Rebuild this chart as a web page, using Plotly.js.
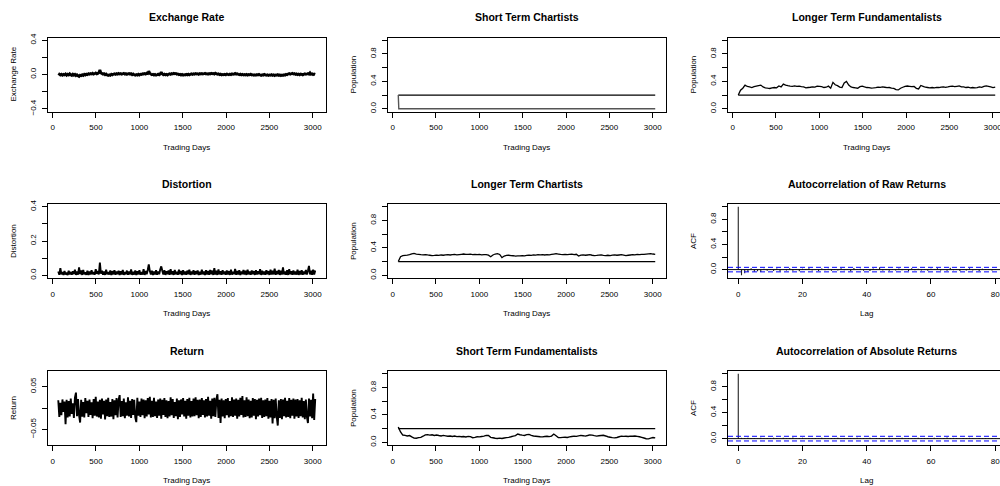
<!DOCTYPE html>
<html><head><meta charset="utf-8">
<script src="https://cdn.plot.ly/plotly-3.0.1.min.js"></script>
<style>html,body{margin:0;padding:0;background:#fff}#chart{width:1000px;height:486px}</style>
</head><body><div id="chart"></div>
<script>
// ---------------- DATA ----------------
const dayStart = 65;      // first trading day plotted
const denseStep = 12;     // spacing (days) of the dense series below
const popStep = 26;       // spacing (days) of the population series

const exchangeRate = [
0.012,0.004,-0.006,0.003,-0.008,0.001,-0.004,0.006,-0.009,0.002,
-0.005,0.008,-0.003,-0.01,0.004,-0.007,0.002,-0.012,-0.004,-0.015,
-0.022,-0.009,-0.014,-0.003,-0.011,0.002,-0.006,0.004,-0.002,0.009,
0.003,0.011,0.006,0.014,0.004,0.01,0.017,0.008,0.013,0.021,
0.052,0.018,0.012,0.004,0.009,-0.002,0.005,-0.006,-0.011,-0.004,
-0.009,0.002,-0.005,0.004,0.008,0.001,0.01,0.004,0.012,0.006,
0.011,0.003,0.009,0.013,0.005,0.01,0.002,0.008,0.012,0.004,
0.009,-0.002,0.006,-0.004,-0.009,-0.001,-0.007,0.003,-0.005,0.004,
0.001,0.009,0.005,0.012,0.006,0.016,0.011,0.038,0.014,0.004,
-0.003,0.002,-0.006,0.001,-0.007,-0.002,0.004,-0.004,0.006,0.028,
0.007,-0.003,0.004,-0.005,0.002,-0.006,0.003,0.008,0.002,0.011,
0.006,0.014,0.008,0.012,0.003,0.006,-0.003,0.002,-0.006,0.001,
-0.008,-0.002,-0.006,0.001,-0.004,0.003,-0.005,0.002,0.007,0.001,
0.008,0.004,0.011,0.005,0.009,0.002,0.01,0.006,0.012,0.005,
0.009,0.013,0.006,0.01,0.004,0.011,0.007,0.014,0.008,0.012,
0.005,0.016,0.009,0.003,0.007,-0.002,0.004,-0.005,0.001,-0.003,
0.002,-0.004,0.006,0.001,-0.003,0.004,-0.002,0.008,0.002,0.005,
0.012,0.004,0.009,0.003,-0.002,0.005,-0.004,0.001,-0.006,-0.001,
-0.005,0.002,-0.007,-0.001,-0.004,0.003,-0.006,-0.002,-0.009,-0.003,
-0.008,-0.001,-0.006,0.002,-0.005,-0.01,-0.003,-0.007,0.001,-0.004,
-0.009,-0.003,-0.011,-0.005,-0.008,-0.002,-0.01,-0.004,-0.012,-0.006,
-0.009,-0.002,-0.011,-0.005,-0.013,-0.006,-0.01,-0.003,-0.007,0.002,
-0.003,0.006,0.011,0.004,0.009,0.013,0.006,0.01,0.002,0.007,
-0.001,0.004,-0.003,0.005,0.001,-0.004,0.003,0.008,0.002,0.006,
0.011,0.004,0.019,0.003,0.008,-0.002,0.005,0.001
];

const distortion = [
0.022,0.003,0.041,0.006,0.018,0.002,0.025,0.004,0.016,0.001,
0.027,0.005,0.019,0.003,0.024,0.007,0.033,0.002,0.021,0.004,
0.046,0.006,0.028,0.002,0.031,0.005,0.017,0.003,0.026,0.001,
0.022,0.004,0.029,0.006,0.018,0.003,0.035,0.008,0.024,0.005,
0.074,0.009,0.027,0.003,0.021,0.002,0.032,0.006,0.019,0.004,
0.028,0.002,0.024,0.005,0.03,0.003,0.021,0.006,0.026,0.001,
0.023,0.004,0.031,0.002,0.019,0.006,0.027,0.003,0.022,0.005,
0.034,0.002,0.02,0.004,0.028,0.001,0.023,0.005,0.03,0.003,
0.019,0.004,0.036,0.002,0.025,0.006,0.031,0.063,0.024,0.004,
0.027,0.002,0.021,0.005,0.029,0.003,0.022,0.006,0.034,0.052,
0.026,0.004,0.03,0.002,0.023,0.006,0.028,0.003,0.035,0.005,
0.024,0.002,0.031,0.005,0.02,0.003,0.033,0.006,0.025,0.002,
0.029,0.004,0.022,0.003,0.027,0.006,0.032,0.002,0.021,0.005,
0.03,0.003,0.024,0.006,0.028,0.002,0.02,0.004,0.033,0.005,
0.022,0.002,0.029,0.005,0.025,0.003,0.031,0.006,0.027,0.002,
0.041,0.004,0.026,0.002,0.034,0.005,0.023,0.003,0.03,0.006,
0.021,0.003,0.028,0.005,0.024,0.002,0.032,0.004,0.02,0.006,
0.037,0.003,0.025,0.005,0.029,0.002,0.022,0.006,0.031,0.004,
0.026,0.002,0.033,0.005,0.021,0.003,0.028,0.006,0.024,0.002,
0.03,0.004,0.023,0.006,0.035,0.002,0.027,0.005,0.021,0.003,
0.029,0.006,0.024,0.002,0.032,0.004,0.026,0.005,0.038,0.003,
0.025,0.006,0.031,0.002,0.027,0.004,0.046,0.005,0.022,0.003,
0.029,0.002,0.035,0.006,0.024,0.003,0.028,0.005,0.021,0.004,
0.033,0.002,0.025,0.005,0.029,0.003,0.022,0.006,0.031,0.004,
0.027,0.055,0.005,0.026,0.003,0.032,0.004,0.028
];

const returns = [
0.018,-0.021,0.012,-0.017,0.02,-0.009,0.015,-0.038,0.019,-0.022,
0.016,-0.02,0.022,-0.014,0.011,-0.023,0.024,0.036,-0.019,0.021,
-0.017,-0.034,0.019,-0.02,0.014,-0.022,0.023,-0.012,0.017,-0.021,
0.02,-0.016,0.013,-0.024,0.021,-0.018,0.026,-0.02,0.015,-0.022,
0.019,-0.025,0.022,-0.015,0.017,-0.027,0.02,-0.019,0.024,-0.021,
0.014,-0.02,0.021,-0.026,0.018,-0.017,0.023,-0.022,0.019,0.03,
-0.021,0.016,-0.019,0.022,-0.024,0.013,-0.018,0.025,-0.02,0.017,
-0.023,0.021,-0.016,0.019,-0.022,-0.033,0.024,-0.018,0.015,-0.021,
0.022,-0.017,0.02,-0.024,0.018,-0.02,0.023,-0.015,0.026,-0.022,
0.017,-0.021,0.024,-0.019,0.015,-0.023,0.02,-0.018,0.022,-0.025,
0.019,-0.016,0.023,-0.021,0.018,-0.024,0.016,-0.02,0.025,-0.017,
0.021,-0.023,0.014,-0.019,0.022,-0.026,0.018,-0.021,0.02,-0.015,
0.023,-0.02,0.017,-0.025,0.021,-0.018,0.024,-0.022,0.016,-0.02,
0.022,-0.019,0.025,-0.017,0.019,-0.024,0.02,-0.021,0.023,-0.016,
0.018,-0.022,0.021,-0.02,0.026,-0.018,0.017,-0.025,0.022,-0.019,
0.024,-0.021,0.02,0.032,-0.023,0.019,-0.035,0.022,-0.02,0.018,
-0.024,0.021,-0.017,0.023,-0.022,0.016,-0.019,0.025,-0.021,0.02,
-0.018,0.022,-0.025,0.019,-0.02,0.024,-0.016,0.028,-0.022,0.018,
-0.021,0.025,-0.019,0.02,-0.024,0.017,-0.022,0.023,-0.018,0.021,
-0.026,0.019,-0.02,0.022,-0.017,0.024,-0.023,0.018,-0.021,0.02,
-0.019,0.023,-0.025,0.017,-0.022,0.021,-0.036,0.019,-0.024,0.022,
-0.02,-0.041,0.018,-0.023,0.021,-0.026,0.02,-0.019,0.024,-0.022,
0.017,-0.021,0.023,-0.024,0.019,-0.018,0.022,-0.025,0.02,-0.02,
0.021,-0.023,0.018,-0.019,0.024,-0.022,0.016,-0.026,0.02,-0.021,
-0.035,0.022,-0.02,0.019,-0.024,0.034,-0.028,0.021
];

const ltFundamentalists = [
0.2,0.27,0.3,0.345,0.325,0.318,0.31,0.322,0.33,0.338,
0.345,0.318,0.305,0.3,0.296,0.304,0.31,0.306,0.332,0.318,
0.36,0.345,0.336,0.33,0.328,0.334,0.326,0.33,0.322,0.318,
0.306,0.31,0.314,0.32,0.316,0.33,0.326,0.322,0.31,0.314,
0.33,0.3,0.385,0.35,0.338,0.316,0.31,0.375,0.398,0.345,
0.318,0.31,0.306,0.3,0.322,0.33,0.318,0.31,0.308,0.302,
0.305,0.31,0.316,0.312,0.318,0.314,0.308,0.31,0.302,0.298,
0.28,0.275,0.3,0.314,0.326,0.332,0.328,0.322,0.326,0.298,
0.29,0.34,0.328,0.314,0.31,0.306,0.31,0.304,0.312,0.31,
0.316,0.32,0.312,0.318,0.326,0.33,0.322,0.328,0.334,0.32,
0.318,0.31,0.314,0.306,0.31,0.304,0.31,0.318,0.312,0.326,
0.334,0.328,0.32,0.31,0.316
];

const ltChartists = [
0.2,0.27,0.285,0.29,0.294,0.3,0.312,0.318,0.31,0.305,
0.3,0.298,0.302,0.296,0.292,0.288,0.29,0.294,0.29,0.296,
0.292,0.298,0.302,0.296,0.3,0.304,0.298,0.302,0.306,0.31,
0.306,0.304,0.308,0.302,0.306,0.3,0.304,0.298,0.302,0.3,
0.294,0.27,0.296,0.31,0.316,0.304,0.258,0.28,0.29,0.292,
0.288,0.285,0.28,0.284,0.282,0.286,0.284,0.29,0.294,0.29,
0.296,0.294,0.3,0.298,0.302,0.296,0.3,0.298,0.304,0.31,
0.316,0.31,0.304,0.302,0.306,0.3,0.304,0.308,0.302,0.306,
0.28,0.294,0.298,0.292,0.296,0.3,0.292,0.288,0.29,0.294,
0.296,0.29,0.286,0.292,0.288,0.294,0.298,0.292,0.296,0.3,
0.294,0.288,0.292,0.296,0.3,0.298,0.304,0.302,0.306,0.304,
0.308,0.312,0.316,0.31,0.306
];

const stFundamentalists = [
0.222,0.15,0.105,0.1,0.092,0.098,0.078,0.06,0.058,0.068,
0.072,0.088,0.108,0.112,0.104,0.11,0.1,0.106,0.098,0.092,
0.1,0.094,0.088,0.092,0.084,0.09,0.082,0.086,0.08,0.084,
0.078,0.086,0.082,0.066,0.072,0.08,0.078,0.084,0.09,0.1,
0.098,0.072,0.066,0.058,0.055,0.06,0.056,0.062,0.068,0.072,
0.08,0.09,0.096,0.12,0.11,0.104,0.1,0.112,0.115,0.1,
0.092,0.088,0.084,0.08,0.078,0.084,0.088,0.082,0.09,0.12,
0.095,0.07,0.068,0.072,0.074,0.07,0.078,0.084,0.09,0.086,
0.094,0.1,0.096,0.09,0.098,0.108,0.104,0.096,0.09,0.094,
0.098,0.102,0.092,0.08,0.074,0.068,0.064,0.07,0.08,0.09,
0.086,0.088,0.084,0.09,0.088,0.092,0.086,0.08,0.072,0.062,
0.052,0.05,0.06,0.07,0.064
];

const stChartistDays = [65, 68, 71, 3029];
const stChartists    = [0.2, 0.1, 0.0, 0.0];

const referenceDays  = [65, 3029];
const referenceShare = [0.2, 0.2];

const rawAcf = [
1,-0.09,-0.06,-0.04,0.02,-0.035,-0.025,-0.04,0.012,-0.02,
0.01,-0.024,0.016,-0.03,0.006,-0.014,0.022,-0.018,0.011,-0.026,
0.014,-0.008,0.02,-0.016,0.005,-0.022,0.018,-0.01,0.013,-0.02,
0.008,-0.015,0.021,-0.011,0.006,-0.028,0.025,-0.008,0.014,-0.018,
0.01,-0.021,0.016,-0.006,0.038,-0.015,0.011,-0.02,0.008,-0.013,
0.018,-0.01,0.006,-0.024,0.02,-0.011,0.014,-0.016,0.01,-0.02,
0.013,-0.008,0.021,-0.015,0.006,-0.018,0.028,-0.01,0.011,-0.021,
0.008,-0.013,0.02,-0.016,0.01,-0.022,0.014,-0.006,0.011,-0.015,
0.008
];
const absAcf = [
1,0.012,0.008,0.015,0.006,0.01,-0.004,0.013,0.007,0.011,
0.005,0.014,0.009,-0.003,0.012,0.006,0.01,0.017,0.004,0.008,
0.013,-0.005,0.011,0.007,0.009,0.003,0.012,0.006,-0.004,0.01,
0.008,0.014,0.005,0.009,-0.006,0.011,0.007,0.013,0.004,0.01,
0.006,0.012,-0.003,0.008,0.011,0.005,0.009,0.014,0.002,0.01,
0.007,0.012,-0.005,0.009,0.006,0.011,0.013,0.004,0.008,0.01,
0.005,0.012,0.007,-0.004,0.009,0.016,0.006,0.011,0.008,0.003,
0.01,0.007,0.012,0.005,-0.003,0.009,0.006,0.011,0.004,0.008,
0.007
];
const acfSampleSize = 2965;

const dayTicks = [0,500,1000,1500,2000,2500,3000];
const lagTicks = [0,20,40,60,80];
const popTicks = [0,0.2,0.4,0.6,0.8,1.0];
const popLabels = ['0.0','','0.4','','0.8',''];
const rateTicks = [-0.4,-0.2,0,0.2,0.4];
const rateLabels = ['\u22120.4','','0.0','','0.4'];
const distTicks = [0,0.1,0.2,0.3,0.4];
const distLabels = ['0.0','','0.2','','0.4'];
const retTicks = [-0.05,0,0.05];
const retLabels = ['\u22120.05','','0.05'];

// ---------------- LAYOUT HELPERS ----------------
const W = 1000, H = 486;
const FONT = '"Liberation Sans", Arial, Helvetica, sans-serif';
const cols = [{l:48, r:325.5},{l:388, r:665.5},{l:728, r:1005.5}];
const rows = [{t:37.5, b:111.5},{t:204, b:278},{t:371, b:445}];

function rExt(lo, hi){ const d=(hi-lo)*0.04; return [lo-d, hi+d]; }
function visRange(rng, col){
  const c = cols[col];
  const frac = (Math.min(c.r, W) - c.l) / (c.r - c.l);
  return [rng[0], rng[0] + (rng[1]-rng[0])*frac];
}

const layout = {
  width: W, height: H,
  margin: {l:0, r:0, t:0, b:0},
  paper_bgcolor: '#fff', plot_bgcolor: '#fff',
  font: {family: FONT, color: '#000', size: 8},
  showlegend: false,
  annotations: [], shapes: []
};

const data = [];
const clim = 1.96 / Math.sqrt(acfSampleSize);

const panels = [
  {title:'Exchange Rate', ylab:'Exchange Rate', xlab:'Trading Days', row:0, col:0,
   xr: rExt(65,3029), yr: rExt(-0.4,0.4), xt: dayTicks, yt: rateTicks, yl: rateLabels},
  {title:'Short Term Chartists', ylab:'Population', xlab:'Trading Days', row:0, col:1,
   xr: rExt(65,3029), yr: rExt(0,1), xt: dayTicks, yt: popTicks, yl: popLabels},
  {title:'Longer Term Fundamentalists', ylab:'Population', xlab:'Trading Days', row:0, col:2,
   xr: rExt(65,3029), yr: rExt(0,1), xt: dayTicks, yt: popTicks, yl: popLabels},
  {title:'Distortion', ylab:'Distortion', xlab:'Trading Days', row:1, col:0,
   xr: rExt(65,3029), yr: rExt(0,0.4), xt: dayTicks, yt: distTicks, yl: distLabels},
  {title:'Longer Term Chartists', ylab:'Population', xlab:'Trading Days', row:1, col:1,
   xr: rExt(65,3029), yr: rExt(0,1), xt: dayTicks, yt: popTicks, yl: popLabels},
  {title:'Autocorrelation of Raw Returns', ylab:'ACF', xlab:'Lag', row:1, col:2,
   xr: rExt(0,80), yr: rExt(Math.min(-clim, ...rawAcf), 1), xt: lagTicks, yt: popTicks, yl: popLabels},
  {title:'Return', ylab:'Return', xlab:'Trading Days', row:2, col:0,
   xr: rExt(65,3029), yr: rExt(-0.08,0.08), xt: dayTicks, yt: retTicks, yl: retLabels},
  {title:'Short Term Fundamentalists', ylab:'Population', xlab:'Trading Days', row:2, col:1,
   xr: rExt(65,3029), yr: rExt(0,1), xt: dayTicks, yt: popTicks, yl: popLabels},
  {title:'Autocorrelation of Absolute Returns', ylab:'ACF', xlab:'Lag', row:2, col:2,
   xr: rExt(0,80), yr: rExt(Math.min(-clim, ...absAcf) - 0.02, 1), xt: lagTicks, yt: popTicks, yl: popLabels}
];

panels.forEach((p, i) => {
  const n = i + 1;
  const xa = 'xaxis' + (n===1?'':n), ya = 'yaxis' + (n===1?'':n);
  const c = cols[p.col], r = rows[p.row];
  const isRight = p.col === 2;
  layout[xa] = {
    domain: [c.l/W, Math.min(c.r, W)/W],
    range: visRange(p.xr, p.col),
    anchor: 'y' + (n===1?'':n),
    showline: true, linecolor: '#000', linewidth: 1, mirror: true,
    ticks: 'outside', ticklen: 5, tickwidth: 1, tickcolor: '#000',
    tickvals: p.xt, ticktext: p.xt.map(String),
    showgrid: false, zeroline: false,
    tickfont: {family: FONT, size: 8, color: '#000'},
    ticklabelstandoff: 3, ticklabeloverflow: 'allow',
    fixedrange: true
  };
  layout[ya] = {
    domain: [1 - r.b/H, 1 - r.t/H],
    range: p.yr,
    anchor: 'x' + (n===1?'':n),
    showline: true, linecolor: '#000', linewidth: 1, mirror: !isRight,
    ticks: 'outside', ticklen: 5, tickwidth: 1, tickcolor: '#000',
    tickvals: p.yt, ticktext: p.yl, tickangle: -90,
    showgrid: false, zeroline: false,
    tickfont: {family: FONT, size: 8, color: '#000'},
    ticklabelstandoff: 3,
    fixedrange: true
  };
  const cx = (c.l + c.r) / 2 / W;
  layout.annotations.push({
    xref:'paper', yref:'paper', x: cx, y: 1 - (r.t - 20)/H,
    xanchor:'center', yanchor:'middle', showarrow:false,
    text:'<b>' + p.title + '</b>', font:{family:FONT, size:10.5, color:'#000'}
  });
  layout.annotations.push({
    xref:'paper', yref:'paper', x: cx, y: 1 - (r.b + 35.5)/H,
    xanchor:'center', yanchor:'middle', showarrow:false,
    text: p.xlab, font:{family:FONT, size:8, color:'#000'}
  });
  layout.annotations.push({
    xref:'paper', yref:'paper', x: (c.l - 35)/W, y: 1 - (r.t + r.b)/2/H,
    xanchor:'center', yanchor:'middle', showarrow:false, textangle:-90,
    text: p.ylab, font:{family:FONT, size:8, color:'#000'}
  });
});

function ax(n){ return n===1 ? ['x','y'] : ['x'+n, 'y'+n]; }
function lineTrace(n, props, width, color){
  const [x,y] = ax(n);
  return Object.assign({type:'scatter', mode:'lines', xaxis:x, yaxis:y,
    line:{color: color || '#000', width: width, simplify: false}, hoverinfo:'skip', showlegend:false}, props);
}

// 1 exchange rate
data.push(lineTrace(1, {x0: dayStart, dx: denseStep, y: exchangeRate}, 2.8));
// 2 short term chartists
data.push(lineTrace(2, {x: referenceDays, y: referenceShare}, 1.3));
data.push(lineTrace(2, {x: stChartistDays, y: stChartists}, 1.4, '#555'));
// 3 longer term fundamentalists
data.push(lineTrace(3, {x: referenceDays, y: referenceShare}, 1.3));
data.push(lineTrace(3, {x0: dayStart, dx: popStep, y: ltFundamentalists}, 1.3));
// 4 distortion
data.push(lineTrace(4, {x0: dayStart, dx: denseStep, y: distortion}, 1.9));
// 5 longer term chartists
data.push(lineTrace(5, {x: referenceDays, y: referenceShare}, 1.3));
data.push(lineTrace(5, {x0: dayStart, dx: popStep, y: ltChartists}, 1.3));
// 7 return
data.push(lineTrace(7, {x0: dayStart, dx: denseStep, y: returns}, 1.9));
// 8 short term fundamentalists
data.push(lineTrace(8, {x: referenceDays, y: referenceShare}, 1.3));
data.push(lineTrace(8, {x0: dayStart, dx: popStep, y: stFundamentalists}, 1.4));

// ACF panels (6, 9)
[[6, rawAcf],[9, absAcf]].forEach(([n, vals]) => {
  const [x,y] = ax(n);
  data.push({type:'bar', xaxis:x, yaxis:y, x0:0, dx:1, y: vals, width:0.34,
    marker:{color:'#222', line:{width:0}}, hoverinfo:'skip', showlegend:false});
  layout.shapes.push({type:'line', xref: x+' domain', yref: y, x0:0, x1:1, y0:0, y1:0,
    line:{color:'#000', width:1}});
  [clim, -clim].forEach(v => layout.shapes.push({type:'line', xref: x+' domain', yref: y,
    x0:0, x1:1, y0:v, y1:v, line:{color:'#0000ff', width:1, dash:'5px,3px'}}));
});

Plotly.newPlot('chart', data, layout, {staticPlot:true, displayModeBar:false});
</script>
</body></html>
